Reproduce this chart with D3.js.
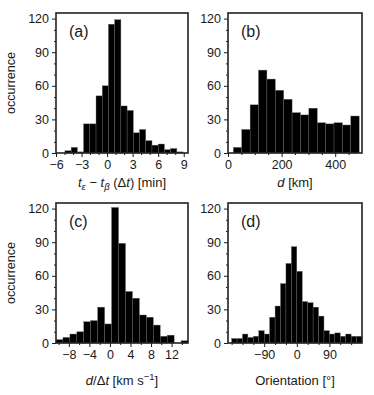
<!DOCTYPE html>
<html><head><meta charset="utf-8">
<script src="https://cdn.jsdelivr.net/npm/d3@7"></script>
<style>
body{margin:0;background:#fff;}
svg{display:block;font-family:"Liberation Sans",Arial,Helvetica,sans-serif;}
</style></head>
<body><svg id="c" width="374" height="395"></svg>
<script>
// ---- data ----
const yTicks = [0, 30, 60, 90, 120];
const yMinorTicks = [10, 20, 40, 50, 70, 80, 100, 110];

const aCounts = [2, 5, 1, 26, 26, 51, 60, 115, 119, 42, 38, 18, 21, 11, 7, 8, 3, 4, 1];
const aBinStart = -4.95, aBinWidth = 0.73;
const aTicks = [-6, -3, 0, 3, 6, 9];
const aMinor = [-5, -4, -2, -1, 1, 2, 4, 5, 7, 8];

const bCounts = [5, 21, 43, 74, 66, 56, 48, 36, 34, 40, 27, 26, 27, 25, 33];
const bBinStart = 20, bBinWidth = 31.3;
const bTicks = [0, 200, 400];
const bMinor = [50, 100, 150, 250, 300, 350, 450];

const cCounts = [3, 5, 8, 10, 19, 20, 32, 17, 121, 89, 46, 40, 25, 23, 16, 6, 7, 0, 2];
const cBinStart = -10.5, cBinWidth = 1.353;
const cTicks = [-8, -4, 0, 4, 8, 12];
const cMinor = [-10, -6, -2, 2, 6, 10, 14];

const dCounts = [4, 4, 8, 5, 6, 11, 8, 23, 33, 53, 71, 86, 64, 37, 36, 32, 24, 11, 8, 9, 6, 8, 6, 6];
const dBinStart = -180, dBinWidth = 15;
const dTicks = [-90, 0, 90];
const dMinor = [-180, -150, -120, -60, -30, 30, 60, 120, 150];

const svg = d3.select("#c");
const ink = "#1a1a1a";

function panel(o) {
  const w = o.x1 - o.x0, h = o.y1 - o.y0;
  const g = svg.append("g").attr("transform", `translate(${o.x0},${o.y0})`);
  const x = d3.scaleLinear().domain(o.domain).range([0, w]);
  const y = d3.scaleLinear().domain([0, 125]).range([h, 0]);
  const bins = o.counts.map((c, i) => ({x0: o.start + i * o.width, x1: o.start + (i + 1) * o.width, c}));
  g.selectAll("rect.bar").data(bins).join("rect").attr("class", "bar")
    .attr("x", d => x(d.x0)).attr("width", d => x(d.x1) - x(d.x0))
    .attr("y", d => y(d.c)).attr("height", d => y(0) - y(d.c))
    .attr("fill", "#000").attr("stroke", "#666").attr("stroke-width", 0.4);
  const xa = g.append("g").attr("transform", `translate(0,${h})`)
    .call(d3.axisBottom(x).tickValues(o.ticks).tickSize(4).tickPadding(3).tickFormat(d => d < 0 ? "\u2212" + Math.abs(d) : d));
  const xm = g.append("g").attr("transform", `translate(0,${h})`)
    .call(d3.axisBottom(x).tickValues(o.minor).tickSize(2).tickFormat(""));
  const ya = g.append("g").call(d3.axisLeft(y).tickValues(yTicks).tickSize(4).tickPadding(3));
  const ym = g.append("g").call(d3.axisLeft(y).tickValues(yMinorTicks).tickSize(2).tickFormat(""));
  [xa, xm, ya, ym].forEach(a => {
    a.select(".domain").remove();
    a.selectAll("line").attr("stroke", ink).attr("stroke-width", 1);
    a.selectAll("text").attr("font-size", 12.5).attr("fill", ink).attr("font-family", null);
  });
  g.append("rect").attr("x", 0).attr("y", 0).attr("width", w).attr("height", h)
    .attr("fill", "none").attr("stroke", "#222").attr("stroke-width", 1.6);
  g.append("text").attr("x", 13).attr("y", 24).attr("font-size", 16).attr("fill", ink).text(o.label);
  const xl = g.append("text").attr("x", w / 2).attr("y", h + o.xlabY).attr("text-anchor", "middle")
    .attr("font-size", 13).attr("fill", ink);
  o.xlabel(xl);
  if (o.ylabel) {
    g.append("text").attr("transform", `translate(${-41},${h / 2}) rotate(-90)`)
      .attr("text-anchor", "middle").attr("font-size", 12.5).attr("fill", ink).text("occurrence");
  }
}

panel({x0: 56, x1: 188, y0: 13, y1: 153, domain: [-6, 9.5], counts: aCounts, start: aBinStart, width: aBinWidth,
  ticks: aTicks, minor: aMinor, label: "(a)", ylabel: true, xlabY: 34,
  xlabel: t => {
    t.append("tspan").attr("font-style", "italic").text("t");
    t.append("tspan").attr("font-style", "italic").attr("font-size", 9.5).attr("dy", 3).text("\u03b5");
    t.append("tspan").attr("dy", -3).text(" \u2212 ");
    t.append("tspan").attr("font-style", "italic").text("t");
    t.append("tspan").attr("font-style", "italic").attr("font-size", 9.5).attr("dy", 3).text("\u03b2");
    t.append("tspan").attr("dy", -3).text(" (\u0394");
    t.append("tspan").attr("font-style", "italic").text("t");
    t.append("tspan").text(") [min]");
  }});
panel({x0: 228, x1: 362, y0: 13, y1: 153, domain: [0, 500], counts: bCounts, start: bBinStart, width: bBinWidth,
  ticks: bTicks, minor: bMinor, label: "(b)", ylabel: false, xlabY: 34,
  xlabel: t => {
    t.append("tspan").attr("font-style", "italic").text("d");
    t.append("tspan").text(" [km]");
  }});
panel({x0: 56, x1: 188, y0: 203, y1: 343, domain: [-10.5, 15.2], counts: cCounts, start: cBinStart, width: cBinWidth,
  ticks: cTicks, minor: cMinor, label: "(c)", ylabel: true, xlabY: 42,
  xlabel: t => {
    t.append("tspan").attr("font-style", "italic").text("d");
    t.append("tspan").text("/\u0394");
    t.append("tspan").attr("font-style", "italic").text("t");
    t.append("tspan").text(" [km s");
    t.append("tspan").attr("font-size", 9.5).attr("dy", -5).text("\u22121");
    t.append("tspan").attr("dy", 5).text("]");
  }});
panel({x0: 228, x1: 362, y0: 203, y1: 343, domain: [-190, 180], counts: dCounts, start: dBinStart, width: dBinWidth,
  ticks: dTicks, minor: dMinor, label: "(d)", ylabel: false, xlabY: 42,
  xlabel: t => { t.text("Orientation [\u00b0]"); }});
</script></body></html>
